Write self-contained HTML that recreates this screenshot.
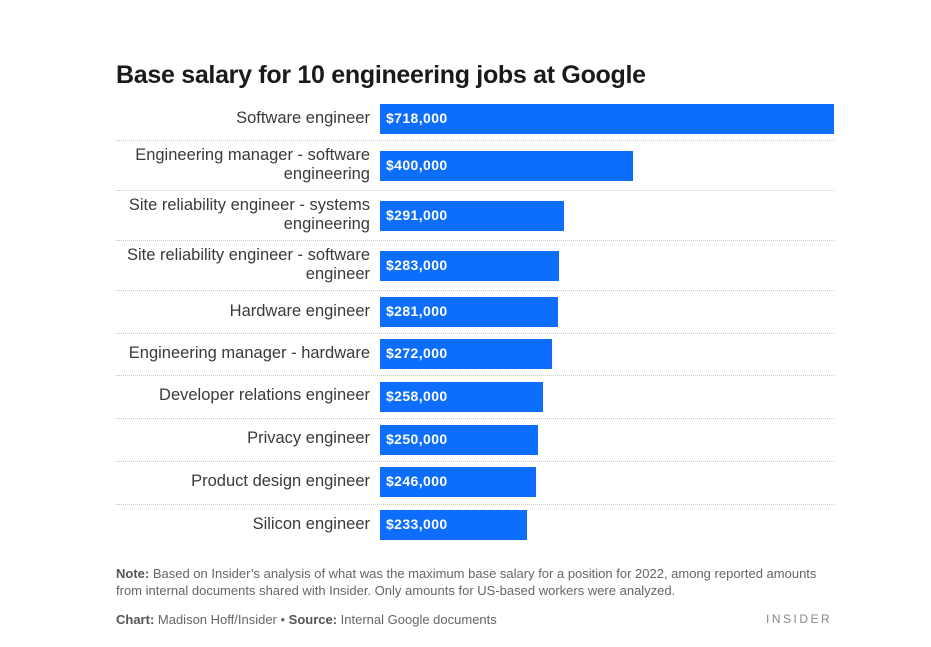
<!DOCTYPE html>
<html><head><meta charset="utf-8">
<style>
body{margin:0;width:931px;height:647px;background:#fff;font-family:"Liberation Sans",sans-serif;position:relative;overflow:hidden}
#title{position:absolute;left:116px;top:61px;font-size:25px;font-weight:bold;color:#1a1a1a;letter-spacing:-0.3px;margin:0}
.lab{position:absolute;right:561px;color:#3a3a3a;font-size:16.5px;text-align:right;line-height:19px;width:262px}
.sep{position:absolute;left:116px;width:718px;border-top:1px dotted #c8c8c8;height:0}
.bar{position:absolute;left:380px;height:30px;background:#0d6efd}
.val{position:absolute;left:386px;color:#fff;font-size:14px;font-weight:bold;line-height:30px;letter-spacing:0.4px}
.foot{position:absolute;left:116px;font-family:"Liberation Sans Narrow","Liberation Sans",sans-serif;font-size:13px;color:#666;line-height:17px}
.foot b{color:#555}
</style></head><body>
<h1 id="title">Base salary for 10 engineering jobs at Google</h1>
<div id="chart"></div>
<div class="foot" style="top:565px;width:720px"><b>Note:</b> Based on Insider’s analysis of what was the maximum base salary for a position for 2022, among reported amounts from internal documents shared with Insider. Only amounts for US-based workers were analyzed.</div>
<div class="foot" style="top:611px"><b>Chart:</b> Madison Hoff/Insider • <b>Source:</b> Internal Google documents</div>
<div class="foot" style="top:611px;left:766px;letter-spacing:2.5px;font-family:'Liberation Sans',sans-serif;font-size:12px;color:#888">INSIDER</div>
<script>
const categories=["Software engineer","Engineering manager - software engineering","Site reliability engineer - systems engineering","Site reliability engineer - software engineer","Hardware engineer","Engineering manager - hardware","Developer relations engineer","Privacy engineer","Product design engineer","Silicon engineer"];
const salaries=[718000,400000,291000,283000,281000,272000,258000,250000,246000,233000];
const valueLabels=["$718,000","$400,000","$291,000","$283,000","$281,000","$272,000","$258,000","$250,000","$246,000","$233,000"];
const x0=380,xMaxPx=454,xMax=718000;
function xScale(v){return v/xMax*xMaxPx;}
const chart=document.getElementById('chart');
let y=97;
categories.forEach((c,i)=>{
  const twoLine=c.length>30;
  const h=twoLine?50:42.8;
  const mid=y+h/2+(i<5?1:0);
  const lab=document.createElement('div');lab.className='lab';
  
  
  lab.textContent=c;
  lab.style.top=(mid-(twoLine?19:9.5)-1)+'px';
  chart.appendChild(lab);
  const bar=document.createElement('div');bar.className='bar';
  
  
  bar.style.top=Math.round(mid-15)+'px';bar.style.width=xScale(salaries[i])+'px';
  chart.appendChild(bar);
  const v=document.createElement('div');v.className='val';
  
  
  v.textContent=valueLabels[i];v.style.top=Math.round(mid-16)+'px';
  chart.appendChild(v);
  y+=h;
  if(i<categories.length-1){
    const s=document.createElement('div');s.className='sep';
    
    
    s.style.top=Math.round(y)+'px';chart.appendChild(s);
  }
});
</script>
</body></html>
